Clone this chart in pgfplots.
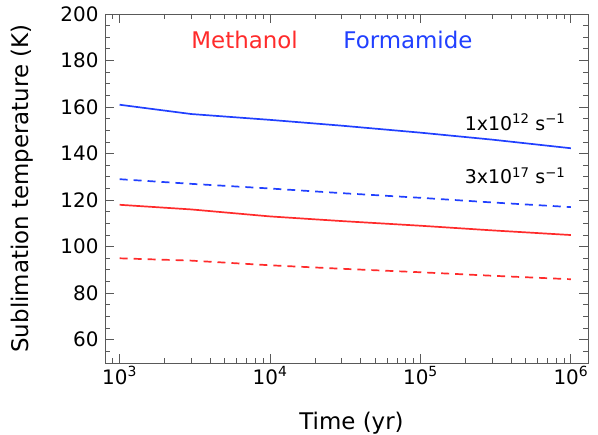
\documentclass[border=0pt]{standalone}
\usepackage{pgfplots}
\pgfplotsset{compat=1.18}
\usepackage{fontspec}
\setmainfont{DejaVu Sans}
\definecolor{myred}{rgb}{1,0.17,0.17}
\definecolor{myblue}{rgb}{0.13,0.25,1}
\newcommand{\lblsize}{\fontsize{23}{27}\selectfont}
\newcommand{\ticksize}{\fontsize{20}{24}\selectfont}
\newcommand{\annsize}{\fontsize{19}{23}\selectfont}
\begin{document}
\begin{tikzpicture}
\begin{axis}[
  scale only axis, width=483bp, height=349bp,
  xmode=log, xmin=800, xmax=1.3e6, ymin=50, ymax=200,
  xtick={1000,10000,100000,1000000},
  xticklabels={10\textsuperscript{3},10\textsuperscript{4},10\textsuperscript{5},10\textsuperscript{6}},
  minor xtick={800,900,2000,3000,4000,5000,6000,7000,8000,9000,20000,30000,40000,50000,60000,70000,80000,90000,200000,300000,400000,500000,600000,700000,800000,900000},
  ytick={60,80,100,120,140,160,180,200},
  minor ytick={55,65,70,75,85,90,95,105,110,115,125,130,135,145,150,155,165,170,175,185,190,195},
  tick align=inside, major tick length=9bp, minor tick length=5bp,
  axis line style={black!65, line width=0.9bp},
  every tick/.style={black!65, line width=0.9bp},
  /pgf/number format/assume math mode=true,
  xticklabel style={font=\ticksize},
  yticklabel style={font=\ticksize, xshift=-3bp},
  xlabel={Time (yr)},
  xlabel style={font=\lblsize, at={(axis description cs:0.5,0)}, anchor=center, yshift=-60bp, xshift=5bp},
]
\addplot[myblue, line width=1.7bp] coordinates {(1000,161) (3000,157) (10000,154.5) (30000,152) (100000,149) (300000,146) (1000000,142.3)};
\addplot[myblue, line width=1.7bp, dash pattern=on 8bp off 6bp] coordinates {(1000,129) (3000,127) (10000,125) (30000,123) (100000,121) (300000,119) (1000000,117)};
\addplot[myred, line width=1.7bp] coordinates {(1000,118) (3000,116) (10000,113) (30000,111) (100000,109) (300000,107) (1000000,105)};
\addplot[myred, line width=1.7bp, dash pattern=on 8bp off 6bp] coordinates {(1000,95) (3000,94) (10000,92) (30000,90.5) (100000,89) (300000,87.5) (1000000,86)};
\node[anchor=base, text=myred, font=\lblsize] at (axis cs:6780,185) {Methanol};
\node[anchor=base, text=myblue, font=\lblsize] at (axis cs:82600,185) {Formamide};
\node[anchor=base east, font=\annsize] at (axis cs:9.7e5,150.1) {1x10\textsuperscript{12} s\textsuperscript{−1}};
\node[anchor=base east, font=\annsize] at (axis cs:9.7e5,127.2) {3x10\textsuperscript{17} s\textsuperscript{−1}};
\end{axis}
\node[rotate=90, anchor=center, font=\lblsize] at ([xshift=-83bp]current axis.west) {Sublimation temperature (K)};
\pgfresetboundingbox
\path[use as bounding box] ([shift={(-105bp,-72bp)}]current axis.south west) rectangle ([shift={(493bp,363bp)}]current axis.south west);
\end{tikzpicture}
\end{document}
